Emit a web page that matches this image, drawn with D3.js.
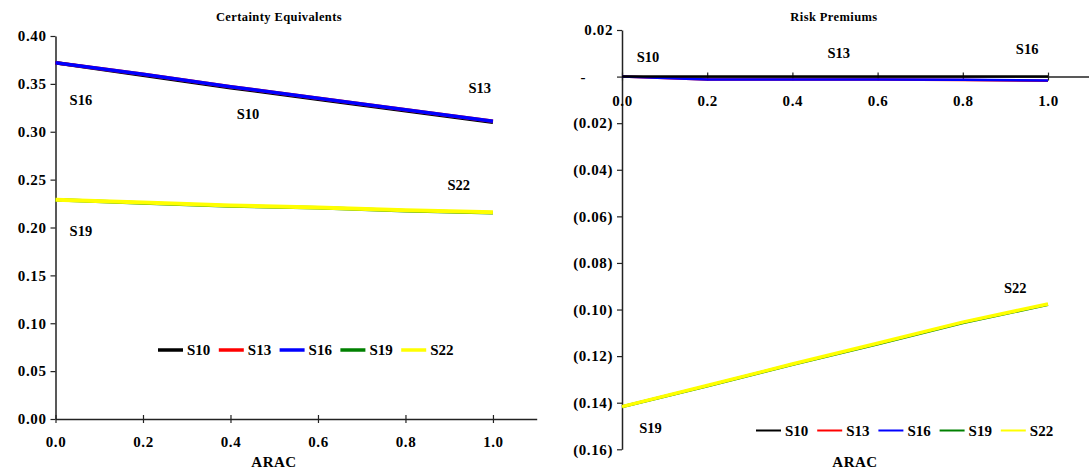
<!DOCTYPE html>
<html><head><meta charset="utf-8">
<script src="https://cdn.jsdelivr.net/npm/d3@7/dist/d3.min.js"></script>
<style>
body{margin:0;background:#fff}
svg{display:block}
text{font-family:"Liberation Serif","Times New Roman",serif;font-weight:bold;fill:#000}
</style></head><body>
<svg id="c" width="1089" height="476"></svg>
<script>
const xs = [0, 0.2, 0.4, 0.6, 0.8, 1.0];
const seriesNames = ["S10","S13","S16","S19","S22"];
const colors = ["#000000","#ff0000","#0000ff","#008000","#ffff00"];
// Certainty equivalents
const ceS10 = [0.372,0.359,0.346,0.334,0.322,0.310];
const ceS13 = [0.372,0.360,0.347,0.335,0.323,0.311];
const ceS16 = [0.372,0.360,0.347,0.335,0.323,0.311];
const ceS19 = [0.229,0.2255,0.2225,0.2205,0.2175,0.2155];
const ceS22 = [0.229,0.226,0.223,0.221,0.218,0.216];
// Risk premiums
const rpS10 = [0,0,0,0,0,0];
const rpS13 = [0,-0.0012,-0.0013,-0.0013,-0.0015,-0.0018];
const rpS16 = [0,-0.0012,-0.0013,-0.0013,-0.0014,-0.0017];
const rpS19 = [-0.1417,-0.1328,-0.1236,-0.1148,-0.1057,-0.0979];
const rpS22 = [-0.1417,-0.1326,-0.1234,-0.1145,-0.1054,-0.0976];
const xTicks = [0,0.2,0.4,0.6,0.8,1.0];
const ceTicks = [0,0.05,0.10,0.15,0.20,0.25,0.30,0.35,0.40];
const rpTicks = [0.02,0,-0.02,-0.04,-0.06,-0.08,-0.10,-0.12,-0.14,-0.16];
// data labels (data coords)
const ceLabels = [["S16",0.058,0.333],["S10",0.44,0.3185],["S13",0.97,0.3457],["S22",0.922,0.2444],["S19",0.058,0.1963]];
const rpLabels = [["S10",0.061,0.0085],["S13",0.509,0.0101],["S16",0.951,0.0117],["S22",0.923,-0.0909],["S19",0.067,-0.151]];

const svg = d3.select("#c");

function chart(cfg){
  const g = svg.append("g");
  const x = d3.scaleLinear().domain([0,1.1]).range(cfg.xr);
  const y = d3.scaleLinear().domain(cfg.yd).range(cfg.yr);
  const ya = g.append("g").attr("transform",`translate(${cfg.xr[0]},0)`)
    .call(d3.axisLeft(y).tickValues(cfg.yTicks).tickSizeInner(5).tickSizeOuter(0).tickPadding(4).tickFormat(cfg.yFmt));
  ya.select(".domain").attr("stroke","#222").attr("stroke-width",1.5);
  ya.selectAll(".tick line").attr("stroke","#222").attr("stroke-width",1.2);
  ya.selectAll("text").style("font-size","15px").style("letter-spacing","0.6px").style("font-family",'"Liberation Serif",serif');
  if(cfg.zeroDash){ ya.selectAll(".tick").filter(d=>d===0).select("text").attr("x",-36); }
  const xa = g.append("g").attr("transform",`translate(0,${y(0)})`)
    .call(d3.axisBottom(x).tickValues(xTicks).tickSizeOuter(0).tickFormat(d3.format(".1f")));
  xa.select(".domain").attr("stroke","#222").attr("stroke-width",1.5);
  xa.selectAll(".tick line").attr("y1",-4).attr("y2",4).attr("stroke","#222").attr("stroke-width",1.2);
  xa.selectAll("text").attr("y",cfg.xLabY).attr("dy",0).style("font-size","15px").style("letter-spacing","0.6px").style("font-family",'"Liberation Serif",serif');
  const line = d3.line().x((d,i)=>x(xs[i])).y(d=>y(d));
  cfg.order.forEach(i=>{
    g.append("path").attr("d",line(cfg.data[i])).attr("fill","none")
      .attr("stroke",colors[i]).attr("stroke-width",cfg.lw[i]).attr("stroke-linejoin","round");
  });
  cfg.labels.forEach(l=>{
    g.append("text").attr("x",x(l[1])).attr("y",y(l[2])+5).attr("text-anchor","middle")
      .style("font-size","14.5px").text(l[0]);
  });
  g.append("text").attr("x",cfg.titleX).attr("y",21).attr("text-anchor","middle")
    .style("font-size","12.5px").style("letter-spacing","0.4px").text(cfg.title);
  g.append("text").attr("x",cfg.arcX).attr("y",467).attr("text-anchor","middle")
    .style("font-size","15px").style("letter-spacing","0.5px").text("ARAC");
  seriesNames.forEach((n,i)=>{
    const lx = cfg.legX + i*cfg.legStep;
    g.append("line").attr("x1",lx).attr("x2",lx+25).attr("y1",cfg.legY).attr("y2",cfg.legY)
      .attr("stroke",colors[i]).attr("stroke-width",cfg.legW);
    g.append("text").attr("x",lx+29).attr("y",cfg.legY+5).style("font-size","15px").text(n);
  });
}

chart({
  xr:[55.5,536.7], yd:[0,0.4], yr:[419,36], yTicks:ceTicks, yFmt:d3.format(".2f"),
  xLabY:28, data:[ceS10,ceS13,ceS16,ceS19,ceS22], lw:[3.5,3.5,3.5,3.5,4], order:[0,1,2,3,4],
  labels:ceLabels, title:"Certainty Equivalents", titleX:279, arcX:274,
  legX:158, legStep:60.8, legY:350, legW:3.5
});
chart({
  xr:[622,1090.6], yd:[-0.16,0.02], yr:[449.3,30], yTicks:rpTicks,
  yFmt:d=>d===0?"-":(d<0?"("+d3.format(".2f")(-d)+")":d3.format(".2f")(d)), zeroDash:true,
  xLabY:29, data:[rpS10,rpS13,rpS16,rpS19,rpS22], lw:[2.5,2.5,2.5,3,3.5], order:[1,2,0,3,4],
  labels:rpLabels, title:"Risk Premiums", titleX:834, arcX:855,
  legX:756, legStep:61.2, legY:430.5, legW:2
});
</script>
</body></html>
